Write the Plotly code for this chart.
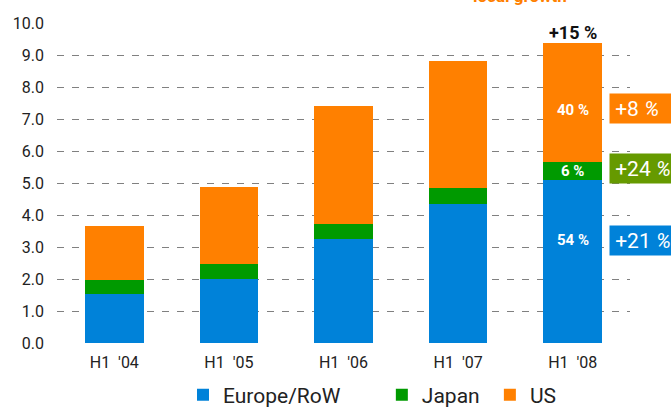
import plotly.graph_objects as go

categories = ["H1 '04", "H1 '05", "H1 '06", "H1 '07", "H1 '08"]
tick_labels = ["H1\u00a0 '04", "H1\u00a0 '05", "H1\u00a0 '06", "H1\u00a0 '07", "H1\u00a0 '08"]
europe = [1.53, 1.99, 3.24, 4.33, 5.08]
japan = [0.43, 0.48, 0.47, 0.50, 0.58]
us = [1.69, 2.40, 3.69, 3.97, 3.72]
series_names = ["Europe/RoW", "Japan", "US"]
legend_pad = ["\u00a0" * 7, "\u00a0" * 1, ""]
colors = ["#0082D9", "#009A00", "#FF8000"]

share_labels = ["54 %", "6 %", "40 %"]
share_label_y = [3.21, 5.37, 7.27]
total_growth = "+15 %"
region_growth = ["+21 <i>%</i>", "+24 <i>%</i>", "+8 <i>%</i>"]
region_growth_y = [3.21, 5.46, 7.33]
box_colors = ["#0082D9", "#669A00", "#FF8000"]

fig = go.Figure()
for name, pad, vals, col in zip(series_names, legend_pad, [europe, japan, us], colors):
    fig.add_trace(go.Bar(x=categories, y=vals, name=name + pad, marker_color=col,
                         marker_line_width=0))

font_family = "Roboto"
total_last = europe[-1] + japan[-1] + us[-1]

annotations = []
for lbl, yy in zip(share_labels, share_label_y):
    annotations.append(dict(x=categories[-1], y=yy, xref="x", yref="y", text="<b>" + lbl + "</b>",
                            showarrow=False, font=dict(family=font_family, size=15, color="white")))
annotations.append(dict(x=categories[-1], y=total_last, xref="x", yref="y", yanchor="bottom",
                        text="<b>" + total_growth + "</b>", showarrow=False, yshift=-2,
                        font=dict(family=font_family, size=18, color="#111111")))
for txt, yy, bc in zip(region_growth, region_growth_y, box_colors):
    annotations.append(dict(x=(609 - 57) / 573, y=yy, xref="paper", yref="y", xanchor="left",
                            yanchor="middle", text="&nbsp;" + txt, showarrow=False, align="left",
                            width=80, height=29, bgcolor=bc, borderpad=0,
                            font=dict(family=font_family, size=21, color="white")))
annotations.append(dict(x=(569 - 57) / 573, y=1.046, xref="paper", yref="paper", yanchor="bottom",
                        text="<b>local growth</b>", showarrow=False,
                        font=dict(family=font_family, size=17, color="#FF8000")))

fig.update_layout(
    barmode="stack",
    bargap=0.49,
    width=671, height=407,
    margin=dict(l=57, r=41, t=23, b=64, autoexpand=False),
    plot_bgcolor="white", paper_bgcolor="white",
    font=dict(family=font_family, size=16, color="#222222"),
    showlegend=True,
    legend=dict(orientation="h", x=(183 - 57) / 573, xanchor="left", y=-0.163, yanchor="middle",
                font=dict(family=font_family, size=21, color="#222222"), itemwidth=30,
                traceorder="normal"),
    annotations=annotations,
)
fig.update_yaxes(range=[0, 10], dtick=1, tickformat=".1f", showgrid=True, gridcolor="#808080",
                 griddash="7px,8px", gridwidth=1, zeroline=False, showline=False,
                 ticklabelstandoff=12, tickfont=dict(size=16, color="#222222"))
fig.update_xaxes(showgrid=False, showline=False, zeroline=False, ticklabelstandoff=8,
                 tickmode="array", tickvals=categories, ticktext=tick_labels,
                 tickfont=dict(size=16, color="#222222"))

fig.write_html("out.html")
